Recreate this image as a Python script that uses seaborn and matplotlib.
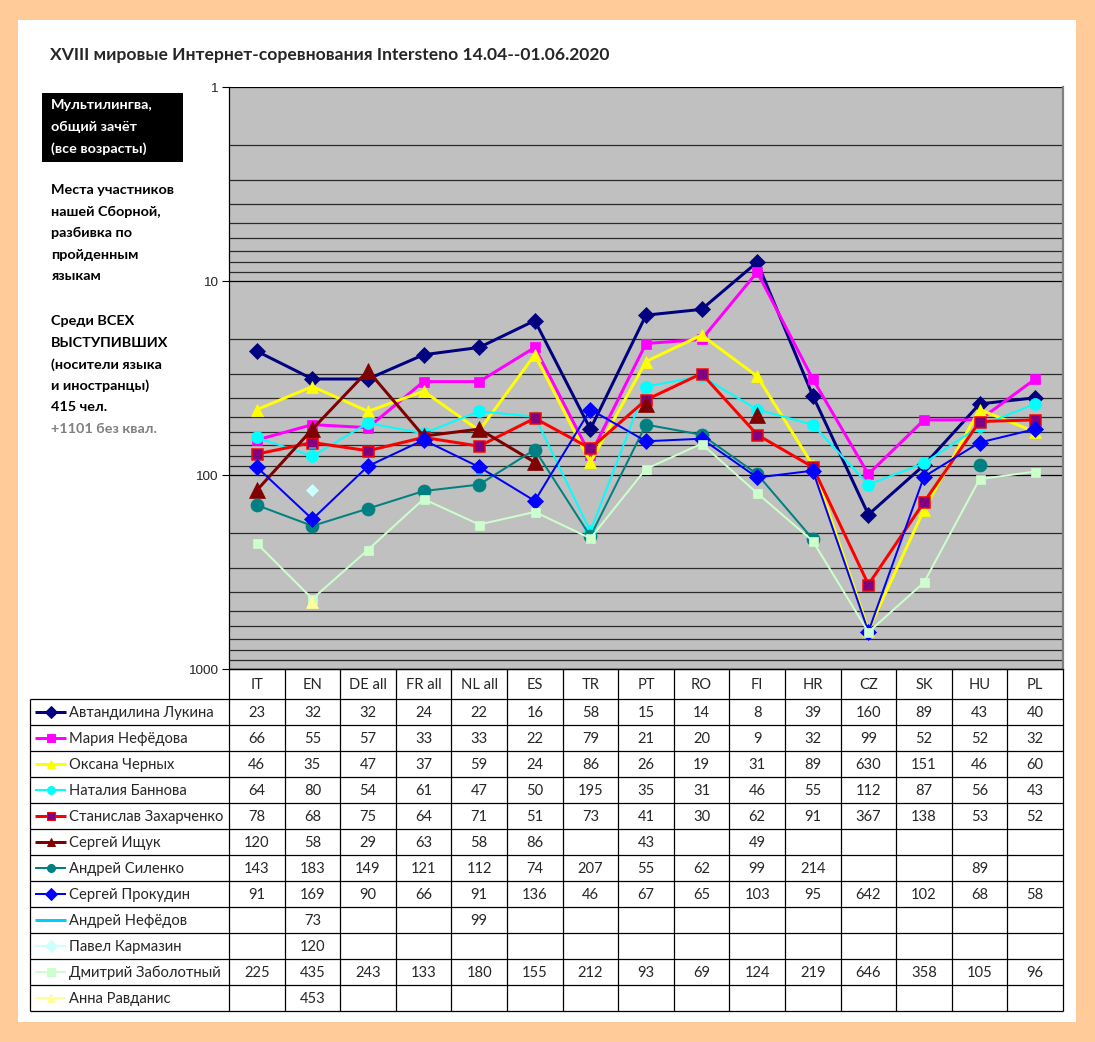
import numpy as np
import pandas as pd
import matplotlib.pyplot as plt
import seaborn as sns
from matplotlib.patches import Rectangle
from matplotlib.ticker import FixedLocator, LogLocator, NullFormatter

nan = np.nan

# ==============================================================
# DATA (places per language)
# ==============================================================

categories = ["IT", "EN", "DE all", "FR all", "NL all", "ES", "TR", "PT",
              "RO", "FI", "HR", "CZ", "SK", "HU", "PL"]

names = ["Автандилина Лукина", "Мария Нефёдова", "Оксана Черных",
         "Наталия Баннова", "Станислав Захарченко", "Сергей Ищук",
         "Андрей Силенко", "Сергей Прокудин", "Андрей Нефёдов",
         "Павел Кармазин", "Дмитрий Заболотный", "Анна Равданис"]

lukina       = [23, 32, 32, 24, 22, 16, 58, 15, 14, 8, 39, 160, 89, 43, 40]
nefedova     = [66, 55, 57, 33, 33, 22, 79, 21, 20, 9, 32, 99, 52, 52, 32]
chernykh     = [46, 35, 47, 37, 59, 24, 86, 26, 19, 31, 89, 630, 151, 46, 60]
bannova      = [64, 80, 54, 61, 47, 50, 195, 35, 31, 46, 55, 112, 87, 56, 43]
zakharchenko = [78, 68, 75, 64, 71, 51, 73, 41, 30, 62, 91, 367, 138, 53, 52]
ishchuk      = [120, 58, 29, 63, 58, 86, nan, 43, nan, 49, nan, nan, nan, nan, nan]
silenko      = [143, 183, 149, 121, 112, 74, 207, 55, 62, 99, 214, nan, nan, 89, nan]
prokudin     = [91, 169, 90, 66, 91, 136, 46, 67, 65, 103, 95, 642, 102, 68, 58]
nefedov      = [nan, 73, nan, nan, 99, nan, nan, nan, nan, nan, nan, nan, nan, nan, nan]
karmazin     = [nan, 120, nan, nan, nan, nan, nan, nan, nan, nan, nan, nan, nan, nan, nan]
zabolotny    = [225, 435, 243, 133, 180, 155, 212, 93, 69, 124, 219, 646, 358, 105, 96]
ravdanis     = [nan, 453, nan, nan, nan, nan, nan, nan, nan, nan, nan, nan, nan, nan, nan]

series = [lukina, nefedova, chernykh, bannova, zakharchenko, ishchuk,
          silenko, prokudin, nefedov, karmazin, zabolotny, ravdanis]

# line colour, marker, marker size (px), face, edge, line width (px)
styles = [
    ("#000080", "D", 11, "#000080", "#000080", 3),
    ("#FF00FF", "s", 10, "#FF00FF", "#FF00FF", 3),
    ("#FFFF00", "^", 12, "#FFFF00", "#FFFF00", 3),
    ("#00FFFF", "o", 12, "#00FFFF", "#00FFFF", 2),
    ("#FF0000", "s", 11, "#800080", "#FF0000", 3),
    ("#800000", "^", 16, "#800000", "#800000", 3),
    ("#008080", "o", 13, "#008080", "#008080", 2),
    ("#0000FF", "D", 12, "#0000FF", "#0000FF", 2),
    ("#00CCFF", "_", 7, "#00CCFF", "#00CCFF", 3),
    ("#CCFFFF", "D", 9, "#CCFFFF", "#CCFFFF", 2),
    ("#CCFFCC", "s", 9, "#CCFFCC", "#CCFFCC", 2),
    ("#FFFF99", "^", 12, "#FFFF99", "#FFFF99", 2),
]

title = "XVIII мировые Интернет-соревнования Intersteno 14.04--01.06.2020"
box_text = ["Мультилингва,", "общий зачёт", "(все возрасты)"]
note1 = ["Места участников", "нашей Сборной,", "разбивка по", "пройденным", "языкам"]
note2 = ["Среди ВСЕХ", "ВЫСТУПИВШИХ", "(носители языка", "и иностранцы)", "415 чел."]
note3 = "+1101 без квал."

# ==============================================================
# FIGURE
# ==============================================================

sns.set_theme(style="white")
plt.rcParams["font.family"] = ["Lato", "DejaVu Sans"]

W, H = 1095, 1042
PT = 72 / 100  # px -> pt

fig = plt.figure(figsize=(W / 100, H / 100), dpi=100, facecolor="#FFCC99")
fig.patches.append(Rectangle((18 / W, 1 - 1022 / H), (1076 - 18) / W, (1022 - 20) / H,
                             transform=fig.transFigure, facecolor="white",
                             edgecolor="none", zorder=-1))

L, R, T, B = 229, 1063, 87, 669
ncat = len(categories)
CW = (R - L) / ncat

ax = fig.add_axes([L / W, 1 - B / H, (R - L) / W, (B - T) / H])
ax.set_facecolor("#C0C0C0")
ax.set_yscale("log")

for vals, (col, mk, ms, mfc, mec, lw) in zip(series, styles):
    s = pd.Series(vals, dtype=float)
    df = pd.DataFrame({"x": np.arange(ncat), "y": s, "seg": s.isna().cumsum()})
    df = df[s.notna()]
    for _, part in df.groupby("seg"):
        sns.lineplot(data=part, x="x", y="y", ax=ax, estimator=None, sort=False,
                     legend=False, color=col, linewidth=lw * PT, marker=mk,
                     markersize=ms * PT, markerfacecolor=mfc, markeredgecolor=mec,
                     markeredgewidth=1.5 * PT if mk == "_" or mfc != mec else 0.5)

ax.set_ylim(1000, 1)
ax.set_xlim(-0.5, ncat - 0.5)
ax.set_xticks([])
ax.set_xlabel("")
ax.set_ylabel("")
ax.yaxis.set_major_locator(FixedLocator([1, 10, 100, 1000]))
ax.yaxis.set_minor_locator(LogLocator(base=10, subs=np.arange(2, 10)))
ax.yaxis.set_minor_formatter(NullFormatter())
ax.set_yticklabels(["1", "10", "100", "1000"])
ax.set_axisbelow(True)
ax.grid(True, which="major", axis="y", color="black", linewidth=0.9)
ax.grid(True, which="minor", axis="y", color="#2a2a2a", linewidth=0.9)
ax.tick_params(axis="y", which="major", left=True, direction="out", length=5,
               width=0.8, color="black", labelsize=9.7, pad=3)
ax.tick_params(axis="y", which="minor", left=False, length=0)
for tl in ax.get_yticklabels():
    tl.set_family(["Liberation Sans", "DejaVu Sans"])
ax.spines["top"].set_visible(False)
ax.spines["left"].set_color("black")
ax.spines["left"].set_linewidth(0.9)
ax.spines["bottom"].set_color("black")
ax.spines["bottom"].set_linewidth(0.9)
ax.spines["right"].set_color("#808080")
ax.spines["right"].set_linewidth(1.6)

# ==============================================================
# OVERLAY: title, notes, data table (pixel coordinates)
# ==============================================================

tb = fig.add_axes([0, 0, 1, 1])
tb.set_xlim(0, W)
tb.set_ylim(H, 0)
tb.axis("off")
tb.patch.set_alpha(0)

tb.text(50, 55, title, fontsize=12.6, fontweight="bold", va="center", ha="left")

tb.add_patch(Rectangle((42, 93), 141, 69, facecolor="black", edgecolor="none"))
LH = 21.6
NFS = 10.4
for i, line in enumerate(box_text):
    tb.text(51, 105 + i * LH, line, color="white", fontsize=NFS, fontweight="bold",
            va="center", ha="left")
for i, line in enumerate(note1):
    tb.text(51, 190 + i * LH, line, color="black", fontsize=NFS, fontweight="bold",
            va="center", ha="left")
for i, line in enumerate(note2):
    tb.text(51, 321 + i * LH, line, color="black", fontsize=NFS, fontweight="bold",
            va="center", ha="left")
tb.text(51, 321 + 5 * LH, note3, color="#808080", fontsize=NFS, fontweight="bold",
        va="center", ha="left")

HDR, ROW, TL = 699, 26, 30
TFS = 10.6
nrow = len(names)
bottom = HDR + ROW * nrow
lkw = dict(color="black", linewidth=0.9, solid_capstyle="butt")

tb.plot([L, R], [B, B], **lkw)
for k in range(nrow + 1):
    tb.plot([TL, R], [HDR + ROW * k] * 2, **lkw)
tb.plot([TL, TL], [HDR, bottom], **lkw)
for i in range(ncat + 1):
    tb.plot([L + CW * i] * 2, [B, bottom], **lkw)

for i, cat in enumerate(categories):
    tb.text(L + CW * (i + 0.5), (B + HDR) / 2 + 1, cat, fontsize=TFS,
            ha="center", va="center")

for r, (name, vals, (col, mk, ms, mfc, mec, lw)) in enumerate(zip(names, series, styles)):
    yc = HDR + ROW * (r + 0.5)
    tb.plot([35, 66], [yc, yc], color=col, linewidth=lw * PT, solid_capstyle="butt")
    if mk != "_":
        tb.plot([50.5], [yc], marker=mk, markersize=8 * PT, markerfacecolor=mfc,
                markeredgecolor=mec, markeredgewidth=0.7, linestyle="none")
    tb.text(69, yc + 1, name, fontsize=TFS, ha="left", va="center")
    for i, v in enumerate(vals):
        if not np.isnan(v):
            tb.text(L + CW * (i + 0.5), yc + 1, f"{int(v)}", fontsize=TFS,
                    ha="center", va="center")

fig.savefig("out.png", dpi=100, facecolor=fig.get_facecolor())
